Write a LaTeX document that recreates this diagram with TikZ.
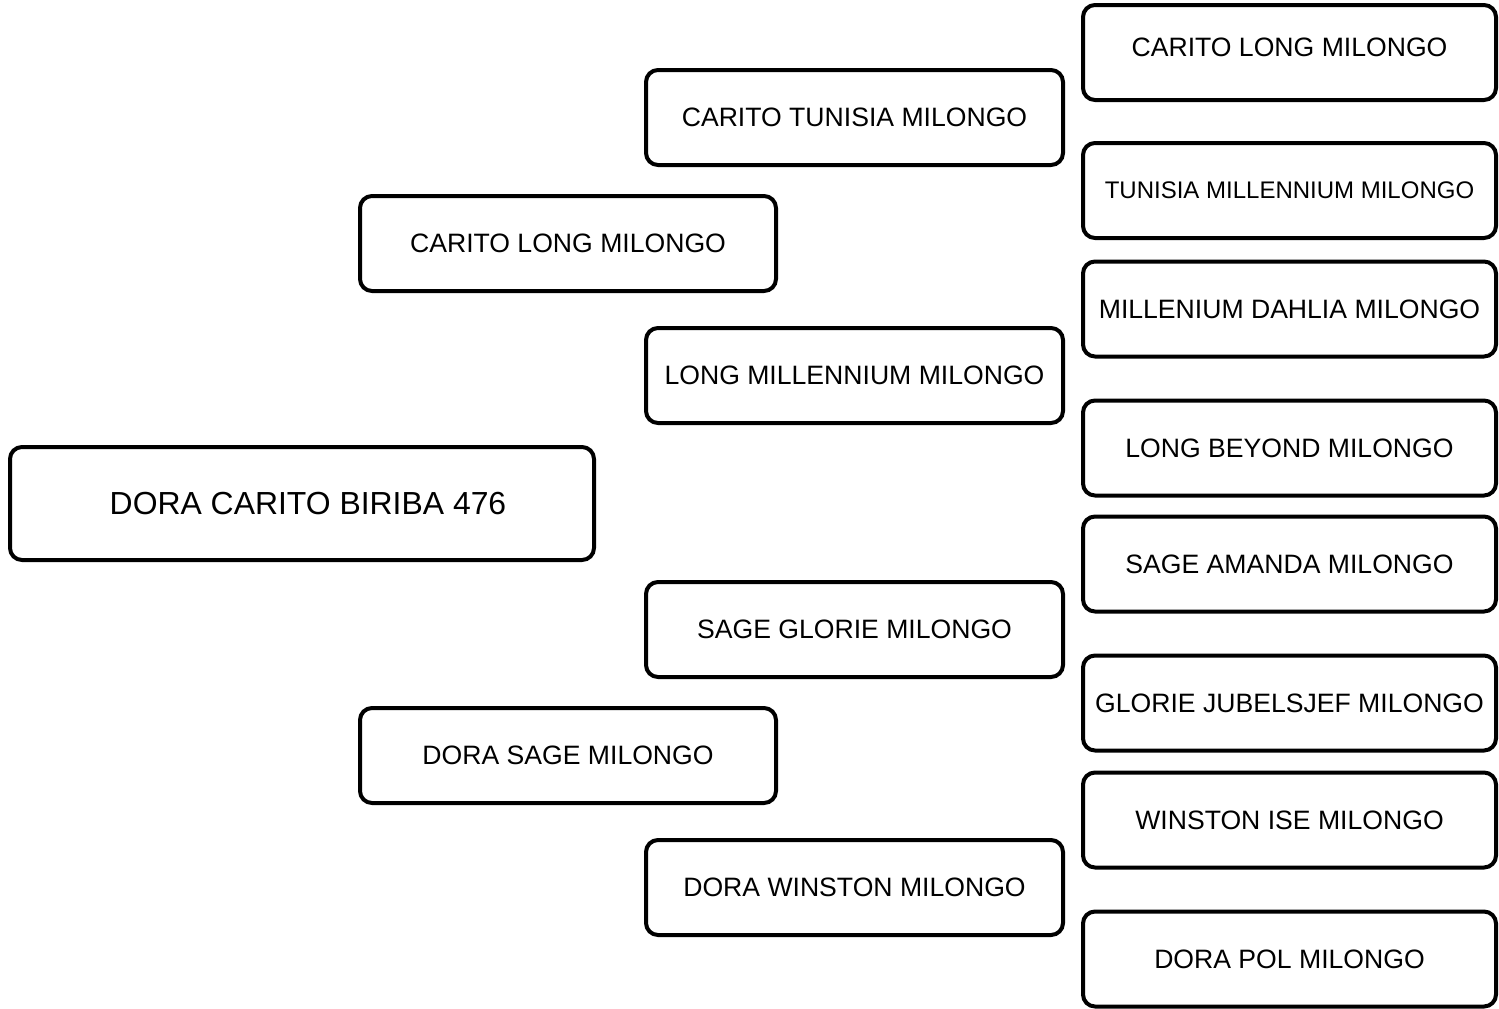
\documentclass[tikz,border=0pt]{standalone}
\usepackage{fontspec}
\setmainfont{Liberation Sans}
\begin{document}
\begin{tikzpicture}[x=1pt,y=-1pt,
  box/.style={draw=black, line width=4pt, rounded corners=12pt, fill=white,
    inner sep=0pt, minimum height=95pt, font=\fontsize{26.6}{30}\selectfont},
  gen1/.style={box, minimum width=416pt},
  gen2/.style={box, minimum width=417pt},
  gen3/.style={box, minimum width=413pt},
  rootbox/.style={box, minimum width=584pt, minimum height=113pt, font=\fontsize{31.9}{36}\selectfont}]
\useasboundingbox (0,0) rectangle (1499,1009);
\node[rootbox] (r) at (302,503.5) {\hspace*{12pt}DORA CARITO BIRIBA 476};
\node[gen1] (s) at (568,243.5) {CARITO LONG MILONGO};
\node[gen1] (d) at (568,755.5) {DORA SAGE MILONGO};
\node[gen2] (ss) at (854.5,117.5) {CARITO TUNISIA MILONGO};
\node[gen2] (sd) at (854.5,375.5) {LONG MILLENNIUM MILONGO};
\node[gen2] (ds) at (854.5,629.5) {SAGE GLORIE MILONGO};
\node[gen2] (dd) at (854.5,887.5) {DORA WINSTON MILONGO};
\node[gen3] (sss) at (1289.5,52.5) {\raisebox{5pt}[\height][\depth]{CARITO LONG MILONGO}};
\node[gen3] (ssd) at (1289.5,190.5) {\fontsize{24}{28}\selectfont TUNISIA MILLENNIUM MILONGO};
\node[gen3] (sds) at (1289.5,309) {MILLENIUM DAHLIA MILONGO};
\node[gen3] (sdd) at (1289.5,448) {LONG BEYOND MILONGO};
\node[gen3] (dss) at (1289.5,564) {SAGE AMANDA MILONGO};
\node[gen3] (dsd) at (1289.5,703) {GLORIE JUBELSJEF MILONGO};
\node[gen3] (dds) at (1289.5,820) {WINSTON ISE MILONGO};
\node[gen3] (ddd) at (1289.5,959) {DORA POL MILONGO};
\end{tikzpicture}
\end{document}
